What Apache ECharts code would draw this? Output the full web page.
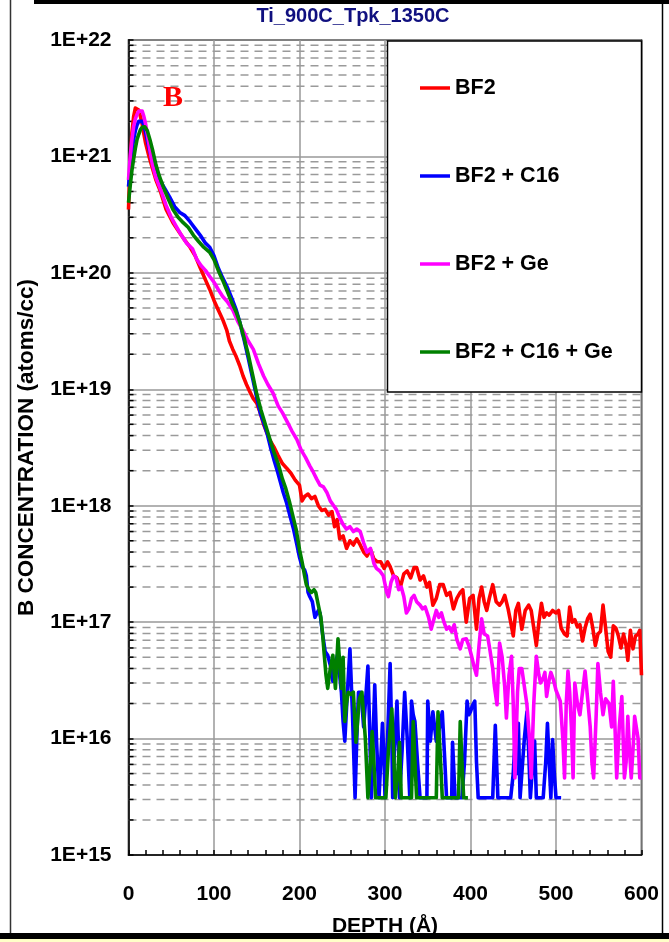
<!DOCTYPE html>
<html>
<head>
<meta charset="utf-8">
<script src="https://cdn.jsdelivr.net/npm/echarts@6/dist/echarts.min.js"></script>
<style>
html,body{margin:0;padding:0;background:#fff;}
#chart{width:669px;height:942px;}
</style>
</head>
<body>
<div id="chart"></div>
<script>
// ---------------- DATA ----------------
const chartTitle = 'Ti_900C_Tpk_1350C';
const seriesNames = ['BF2', 'BF2 + C16', 'BF2 + Ge', 'BF2 + C16 + Ge'];
const xTickLabels = [0, 100, 200, 300, 400, 500, 600];
const yDecadeExponents = [15, 16, 17, 18, 19, 20, 21, 22];
const yMinorMultipliers = [2, 3, 4, 5, 6, 7, 8, 9];

const bf2Depth = [0,2,4,6,8,10,12,14,16,18,20,24,28,32,37,44,52,60,66,72,78,84,90,95,100,105,110,115,118,122,126,130,134,138,142,146,150,154,158,162,165,170,175,180,185,190,195,200,203,206,210,214,218,222,226,230,234,238,241,244,247,251,255,259,263,267,271,275,279,283,287,291,295,299,303,306,310,314,318,322,326,330,334,337,341,345,349,352,356,360,364,368,372,376,380,384,388,391,395,399,403,407,410,413,416,419,422,426,430,434,437,440,444,447,450,453,456,460,464,468,471,474,477,480,483,486,489,492,496,500,503,506,510,513,516,519,522,525,528,531,534,537,540,543,546,549,552,555,558,561,564,567,570,573,576,579,582,584,587,590,593,596,598,600];
const bf2Conc = [3.5e20,8.9e20,1.6e21,2.2e21,2.6e21,2.6e21,2.5e21,2.2e21,1.9e21,1.55e21,1.3e21,1.0e21,7.9e20,6.3e20,5.1e20,3.5e20,2.7e20,2.2e20,1.9e20,1.66e20,1.4e20,1.1e20,8.7e19,7.2e19,5.8e19,4.8e19,4.0e19,3.2e19,2.6e19,2.2e19,1.9e19,1.6e19,1.3e19,1.1e19,9.5e18,8.3e18,7.6e18,6.3e18,5.0e18,4.2e18,3.7e18,3.2e18,2.7e18,2.3e18,2.1e18,1.9e18,1.66e18,1.5e18,1.1e18,1.2e18,1.26e18,1.15e18,1.2e18,1.0e18,9.1e17,9.3e17,8.3e17,8.9e17,6.6e17,7.6e17,5.2e17,5.5e17,4.3e17,5.0e17,4.6e17,5.2e17,4.6e17,4.0e17,3.7e17,4.2e17,3.5e17,3.3e17,3.3e17,2.9e17,3.3e17,3.0e17,2.5e17,2.4e17,2.0e17,2.6e17,2.75e17,2.4e17,2.95e17,2.95e17,2.3e17,2.5e17,2.0e17,2.2e17,1.4e17,1.6e17,2.1e17,2.1e17,1.7e17,1.8e17,1.3e17,1.6e17,1.8e17,1.9e17,1.0e17,1.6e17,1.7e17,8.7e16,1.6e17,2.0e17,1.5e17,1.26e17,1.6e17,2.1e17,1.5e17,1.4e17,1.5e17,1.7e17,1.3e17,1.0e17,7.6e16,1.26e17,1.45e17,8.7e16,1.26e17,1.4e17,1.26e17,8.9e16,6.3e16,1.0e17,1.45e17,1.1e17,1.2e17,1.15e17,1.26e17,1.2e17,1.26e17,8.9e16,7.9e16,7.6e16,1.35e17,1.0e17,1.05e17,9.1e16,9.5e16,6.9e16,8.9e16,1.07e17,1.17e17,8.9e16,6.3e16,7.9e16,8.3e16,1.4e17,8.9e16,5.6e16,5.0e16,9.3e16,8.9e16,7.6e16,6.0e16,7.9e16,6.3e16,4.7e16,8.5e16,5.9e16,7.6e16,7.9e16,8.5e16,3.5e16];

const bf2C16Depth = [0,2,4,6,8,10,12,14,16,18,20,24,28,32,38,43,48,54,60,66,72,78,84,90,95,100,105,110,116,121,126,130,135,140,145,150,154,158,162,166,170,174,177,181,185,189,193,197,200,203,206,208,210,212,215,218,220,222,224,227,230,233,235,237,239,242,245,247,249,251,253,256,259,262,265,267,269,272,275,277,280,282,284,286,288,290,293,295,297,299,300,303,306,308,309,311,314,316,317,320,323,326,329,331,333,335,338,341,345,349,350,353,356,358,360,364,367,370,372,375,378,379,382,386,390,393,396,398,400,402,405,407,409,413,418,422,426,429,432,436,440,444,447,450,452,454,456,458,461,463,466,468,470,472,475,477,480,482,485,488,490,492,494,496,498,500,503,506];
const bf2C16Conc = [5.5e20,7.9e20,1.1e21,1.4e21,1.66e21,1.86e21,2.0e21,2.05e21,2.0e21,1.86e21,1.6e21,1.17e21,8.9e20,7.2e20,6.0e20,5.2e20,4.5e20,3.7e20,3.3e20,3.1e20,2.75e20,2.4e20,2.1e20,1.8e20,1.66e20,1.4e20,1.1e20,9.1e19,7.4e19,6.0e19,4.8e19,3.8e19,2.7e19,1.86e19,1.26e19,8.5e18,6.3e18,5.2e18,4.2e18,3.2e18,2.5e18,2.0e18,1.66e18,1.3e18,1.05e18,8.1e17,6.3e17,4.6e17,3.6e17,3.0e17,2.8e17,2.5e17,1.8e17,1.66e17,1.5e17,1.1e17,1.1e17,1.26e17,1.2e17,7.9e16,5.6e16,5.2e16,5.0e16,4.0e16,3.1e16,4.5e16,5.4e16,3.5e16,2.5e16,1.4e16,9.5e15,2.5e16,5.9e16,1.6e16,3.1e15,1.0e16,2.5e16,2.5e16,1.26e16,2.0e16,4.2e16,1.26e16,3.1e15,1.0e16,2.9e16,1.0e16,3.1e15,6.3e15,1.35e16,6.3e15,3.1e15,1.0e16,4.4e16,1.0e16,3.1e15,7.9e15,2.1e16,7.9e15,3.1e15,7.9e15,2.5e16,1.0e16,3.1e15,2.1e16,1.6e16,1.4e16,6.3e15,3.1e15,3.1e15,3.1e15,2.1e16,9.5e15,1.7e16,1.26e16,9.5e15,1.26e16,1.7e16,6.3e15,3.1e15,3.1e15,3.1e15,9.3e15,3.1e15,3.1e15,3.1e15,6.3e15,2.1e16,1.6e16,1.7e16,1.9e16,2.1e16,6.3e15,3.1e15,3.1e15,3.1e15,3.1e15,3.1e15,1.3e16,3.1e15,3.1e15,3.1e15,3.1e15,3.1e15,5.0e15,9.5e15,5.0e15,1.35e16,3.1e15,6.3e15,1.0e16,1.7e16,7.9e15,3.1e15,5.0e15,9.5e15,3.1e15,3.1e15,3.1e15,3.1e15,6.3e15,1.35e16,6.3e15,3.1e15,9.8e15,5.0e15,3.1e15,3.1e15,3.1e15];

const bf2GeDepth = [0,2,4,6,8,10,12,14,16,18,20,24,28,32,38,44,50,56,62,68,75,80,85,90,95,100,105,110,116,122,128,134,140,146,152,158,163,169,175,180,186,191,197,202,207,212,216,220,224,228,232,236,240,243,247,251,255,259,263,267,271,275,279,283,287,290,294,298,302,304,307,310,313,316,319,322,325,328,331,334,337,341,344,347,351,354,357,360,363,366,369,372,375,378,381,384,388,391,395,398,401,404,407,410,413,416,420,423,426,428,431,434,437,440,442,445,448,450,452,455,457,460,463,466,469,471,474,477,480,482,485,487,489,492,494,497,500,505,508,510,512,514,516,518,520,522,525,528,531,534,537,540,542,544,547,549,552,555,558,562,565,567,569,571,574,577,580,582,584,586,588,590,592,594,596,598,600];
const bf2GeConc = [6.3e20,1.0e21,1.4e21,1.8e21,2.1e21,2.3e21,2.45e21,2.5e21,2.45e21,2.2e21,1.9e21,1.26e21,8.5e20,6.6e20,5.1e20,3.8e20,3.0e20,2.5e20,2.1e20,1.8e20,1.6e20,1.3e20,1.15e20,1.05e20,9.3e19,8.3e19,7.2e19,6.3e19,5.6e19,4.8e19,3.8e19,3.2e19,2.6e19,2.2e19,1.66e19,1.3e19,1.1e19,9.3e18,7.2e18,6.3e18,5.2e18,4.4e18,3.7e18,3.0e18,2.6e18,2.2e18,1.95e18,1.7e18,1.5e18,1.45e18,1.3e18,1.1e18,1.0e18,9.3e17,7.9e17,6.9e17,6.3e17,6.6e17,6.0e17,6.3e17,6.0e17,4.8e17,4.0e17,4.3e17,3.2e17,2.9e17,2.75e17,2.5e17,1.8e17,1.66e17,2.2e17,2.5e17,2.4e17,1.9e17,2.0e17,1.66e17,1.2e17,1.3e17,1.6e17,1.7e17,1.5e17,1.4e17,1.3e17,1.35e17,1.1e17,8.7e16,1.05e17,1.26e17,1.1e17,1.2e17,1.0e17,8.7e16,9.1e16,8.3e16,9.5e16,7.1e16,5.9e16,7.1e16,7.2e16,6.3e16,5.2e16,4.2e16,3.5e16,6.3e16,1.07e17,7.9e16,7.6e16,5.6e16,4.0e16,2.8e16,1.95e16,6.6e16,5.0e16,2.8e16,1.5e16,3.5e16,5.1e16,2.0e16,4.6e15,2.5e16,4.0e16,4.0e16,2.8e16,1.95e16,1.0e16,4.6e15,2.0e16,5.1e16,3.5e16,3.0e16,3.3e16,3.7e16,2.3e16,3.2e16,3.7e16,3.2e16,2.6e16,2.1e16,1.0e16,4.6e15,2.0e16,3.8e16,2.5e16,1.26e16,4.6e15,3.0e16,2.0e16,1.6e16,2.5e16,3.8e16,2.2e16,1.26e16,6.3e15,4.6e15,1.6e16,4.4e16,2.5e16,1.6e16,2.2e16,2.0e16,1.26e16,3.1e16,1.26e16,4.6e15,1.26e16,2.3e16,4.6e15,6.3e15,1.55e16,7.9e15,4.6e15,7.9e15,1.55e16,1.55e16,1.0e16,4.6e15,4.6e15];

const bf2C16GeDepth = [0,2,4,6,8,10,12,14,16,19,22,25,28,32,36,41,46,52,58,64,70,76,82,88,95,100,105,110,116,121,126,130,135,140,145,150,155,160,165,170,175,180,184,188,192,196,200,203,206,208,211,214,217,219,222,225,227,229,231,233,236,239,242,245,247,249,251,253,255,257,260,263,266,270,273,275,277,280,283,285,287,289,293,297,301,304,308,310,312,315,317,319,323,327,331,333,335,337,342,348,354,360,362,365,367,372,377,382,386,388,390,392,397];
const bf2C16GeConc = [4.0e20,5.6e20,7.6e20,9.5e20,1.17e21,1.4e21,1.55e21,1.7e21,1.78e21,1.8e21,1.66e21,1.4e21,1.15e21,8.5e20,6.8e20,5.4e20,4.4e20,3.5e20,3.0e20,2.7e20,2.45e20,2.1e20,1.86e20,1.66e20,1.5e20,1.3e20,1.05e20,8.7e19,6.8e19,5.5e19,4.6e19,3.8e19,2.8e19,2.0e19,1.35e19,9.1e18,6.6e18,5.0e18,3.8e18,2.9e18,2.3e18,1.7e18,1.4e18,1.1e18,8.3e17,6.3e17,4.2e17,3.3e17,2.5e17,2.1e17,1.9e17,1.8e17,1.9e17,1.8e17,1.4e17,1.1e17,7.9e16,5.2e16,3.5e16,2.7e16,4.0e16,5.2e16,2.7e16,7.2e16,4.5e16,2.7e16,5.0e16,1.4e16,2.0e16,2.5e16,2.4e16,2.5e16,9.3e15,2.2e16,2.5e16,2.6e16,1.0e16,3.1e15,6.3e15,1.15e16,6.3e15,3.1e15,3.1e15,3.1e15,3.1e15,7.9e15,1.8e16,7.9e15,3.1e15,5.0e15,9.3e15,3.1e15,3.1e15,3.1e15,3.1e15,1.4e16,6.3e15,3.1e15,3.1e15,3.1e15,3.1e15,3.1e15,1.7e16,6.3e15,3.1e15,3.1e15,3.1e15,3.1e15,3.1e15,1.4e16,6.3e15,3.1e15,3.1e15];

const seriesColors = ['#ff0000', '#0000ff', '#ff00ff', '#008000'];

// ---------------- BUILD ----------------
function pairs(xs, ys) { return xs.map((x, i) => [x, ys[i]]); }
const seriesData = [
  pairs(bf2Depth, bf2Conc),
  pairs(bf2C16Depth, bf2C16Conc),
  pairs(bf2GeDepth, bf2GeConc),
  pairs(bf2C16GeDepth, bf2C16GeConc)
];
const minorTickValues = [];
yDecadeExponents.slice(0, -1).forEach(e => {
  yMinorMultipliers.forEach(m => minorTickValues.push([0, m * Math.pow(10, e)]));
});

const FONT = '"Liberation Sans", Arial, sans-serif';
const chart = echarts.init(document.getElementById('chart'), null, {renderer: 'canvas'});

const lineSeries = seriesNames.map((name, i) => ({
  name: name,
  type: 'line',
  data: seriesData[i],
  symbol: 'none',
  showSymbol: false,
  smooth: false,
  lineStyle: {color: seriesColors[i], width: 3.6, join: 'round'},
  itemStyle: {color: seriesColors[i]},
  z: 5 + i,
  animation: false,
  clip: true
}));

const option = {
  animation: false,
  backgroundColor: '#ffffff',
  title: {
    text: chartTitle,
    left: 353,
    top: 6,
    padding: 0,
    textAlign: 'center',
    textStyle: {fontFamily: FONT, fontWeight: 'bold', fontSize: 20, color: '#10107f'}
  },
  grid: {
    left: 128.5, top: 40, width: 513, height: 817,
    show: true, borderColor: '#000', borderWidth: 1.5, backgroundColor: 'transparent'
  },
  legend: {
    data: seriesNames,
    orient: 'vertical',
    left: 420,
    top: 77,
    padding: 0,
    itemWidth: 30,
    itemHeight: 14,
    itemGap: 66,
    icon: 'path://M0,5.5 L30,5.5 L30,9 L0,9 Z',
    selectedMode: false,
    z: 100,
    textStyle: {fontFamily: FONT, fontWeight: 'bold', fontSize: 21.5, color: '#000'}
  },
  xAxis: {
    type: 'value',
    min: 0, max: 600, interval: 100,
    name: 'DEPTH (\u00c5)',
    nameLocation: 'middle',
    nameGap: 61,
    nameTextStyle: {fontFamily: FONT, fontWeight: 'bold', fontSize: 21, color: '#000'},
    axisLine: {show: true, onZero: false, lineStyle: {color: '#000', width: 1.5}},
    axisTick: {show: true, inside: true, length: 5, lineStyle: {color: '#000', width: 1.5}},
    minorTick: {show: true, splitNumber: 5, length: 5, lineStyle: {color: '#000', width: 1.5}},
    axisLabel: {
      margin: 29, fontFamily: FONT, fontWeight: 'bold', fontSize: 21, color: '#000',
      formatter: v => (xTickLabels.indexOf(v) >= 0 ? String(v) : '')
    },
    splitLine: {show: true, lineStyle: {color: '#999', width: 1.5}}
  },
  yAxis: {
    type: 'log',
    logBase: 10,
    min: 1e15, max: 1e22,
    name: 'B CONCENTRATION (atoms/cc)',
    nameLocation: 'middle',
    nameRotate: 90,
    nameGap: 90,
    nameTextStyle: {fontFamily: FONT, fontWeight: 'bold', fontSize: 22.5, color: '#000', padding: [0, 0, 0, 0]},
    axisLine: {show: true, lineStyle: {color: '#000', width: 1.5}},
    axisTick: {show: true, inside: true, length: 5, lineStyle: {color: '#000', width: 1.5}},
    minorTick: {show: false},
    axisLabel: {
      margin: 17, fontFamily: FONT, fontWeight: 'bold', fontSize: 21, color: '#000',
      formatter: v => '1E+' + Math.round(Math.log10(v))
    },
    splitLine: {show: true, lineStyle: {color: '#999', width: 1.5}}
  },
  graphic: [
    {type: 'rect', z: 50, shape: {x: 387.5, y: 41, width: 254, height: 351}, style: {fill: '#fff', stroke: '#000', lineWidth: 1.5}},
    {type: 'text', z: 50, x: 173, y: 98, style: {text: 'B', fill: '#ff0000', font: 'bold 30px "Liberation Serif", "Times New Roman", serif', textAlign: 'center', textVerticalAlign: 'middle'}},
    {type: 'rect', z: 60, shape: {x: 34, y: 0, width: 635, height: 4}, style: {fill: '#000'}},
    {type: 'line', z: 60, shape: {x1: 10.5, y1: 0, x2: 10.5, y2: 942}, style: {stroke: '#333', lineWidth: 1.5}},
    {type: 'line', z: 60, shape: {x1: 662.5, y1: 0, x2: 662.5, y2: 933}, style: {stroke: '#000', lineWidth: 1.5}},
    {type: 'rect', z: 60, shape: {x: 0, y: 933, width: 669, height: 6}, style: {fill: '#000'}},
    {type: 'rect', z: 60, shape: {x: 0, y: 939, width: 669, height: 3}, style: {fill: '#ffffc8'}}
  ],
  series: [
    {
      type: 'custom',
      name: 'minorGrid',
      coordinateSystem: 'cartesian2d',
      data: minorTickValues,
      encode: {x: 0, y: 1},
      silent: true,
      z: 1,
      animation: false,
      renderItem: function (params, api) {
        const p = api.coord([api.value(0), api.value(1)]);
        const cs = params.coordSys;
        return {
          type: 'group',
          children: [
            {type: 'line', shape: {x1: cs.x, y1: p[1], x2: cs.x + cs.width, y2: p[1]}, style: {stroke: '#9a9a9a', lineWidth: 1.5, lineDash: [8, 6]}},
            {type: 'line', shape: {x1: cs.x, y1: p[1], x2: cs.x + 5, y2: p[1]}, style: {stroke: '#000', lineWidth: 1.5}}
          ]
        };
      }
    }
  ].concat(lineSeries)
};
chart.setOption(option);
</script>
</body>
</html>
